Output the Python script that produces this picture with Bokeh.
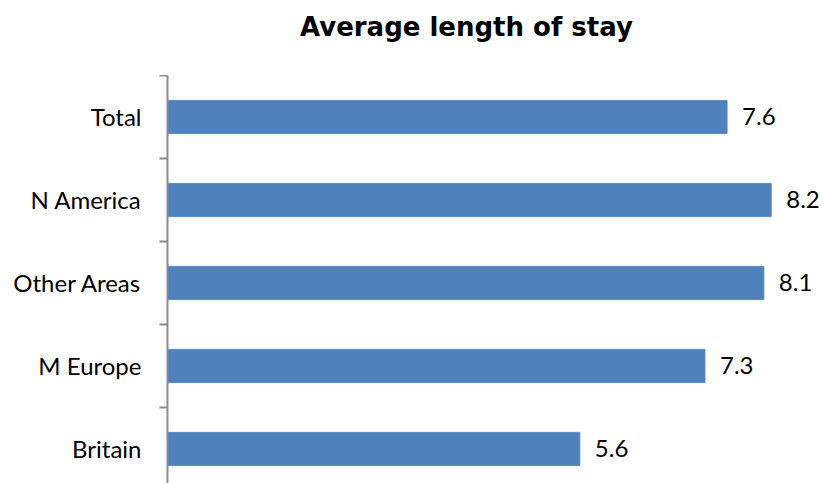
from bokeh.plotting import figure
from bokeh.models import ColumnDataSource, Range1d, FixedTicker, Div
from bokeh.layouts import column
from bokeh.core.properties import value
from bokeh.embed import file_html
from bokeh.resources import INLINE

# Average length of stay by visitor origin (nights), bottom to top
categories = ["Britain", "M Europe", "Other Areas", "N America", "Total"]
stay = [5.6, 7.3, 8.1, 8.2, 7.6]
value_labels = ["5.6", "7.3", "8.1", "8.2", "7.6"]
chart_title = "Average length of stay"

positions = list(range(len(categories)))
source = ColumnDataSource(dict(pos=positions, stay=stay, label=value_labels))

p = figure(
    width=823, height=408,
    output_backend="svg", toolbar_location=None,
    x_range=Range1d(0, 8.91), y_range=Range1d(-0.416, 4.5),
    min_border_left=167, min_border_right=0, min_border_bottom=0, min_border_top=0,
    x_axis_location=None, margin=0,
)
p.outline_line_color = None
p.xgrid.visible = False
p.ygrid.visible = False

p.hbar(y="pos", right="stay", left=0, height=0.4, source=source,
       fill_color="#4F81BD", line_color="#5A8AC4", line_width=1)

p.text(x="stay", y="pos", text="label", source=source, x_offset=15,
       text_baseline="middle", text_align="left",
       text_font=value("Lato"), text_font_size="24px", text_color="#000000")

ax = p.yaxis[0]
ax.ticker = FixedTicker(ticks=positions, minor_ticks=[i - 0.5 for i in range(len(categories) + 1)])
ax.major_label_overrides = {i: c for i, c in enumerate(categories)}
ax.major_tick_line_color = None
ax.major_tick_out = 0
ax.major_tick_in = 0
ax.minor_tick_line_color = "#8C8C8C"
ax.minor_tick_line_width = 2
ax.minor_tick_out = 8
ax.minor_tick_in = 0
ax.axis_line_color = "#8C8C8C"
ax.axis_line_width = 2
ax.major_label_standoff = 18
ax.major_label_text_font = "Lato"
ax.major_label_text_font_size = "24px"
ax.major_label_text_color = "#000000"

# Heading strip above the chart
heading = Div(
    text=('<div style="margin:0 0 0 300px; padding-top:12px; '
          'font-family:\'DejaVu Sans\'; font-weight:bold; font-size:26px; '
          'line-height:30px; color:#000000; white-space:nowrap;">'
          + chart_title + '</div>'),
    width=823, height=75, margin=0,
)

layout = column(heading, p, spacing=0, margin=0)

open("out.html", "w").write(file_html(layout, INLINE))
